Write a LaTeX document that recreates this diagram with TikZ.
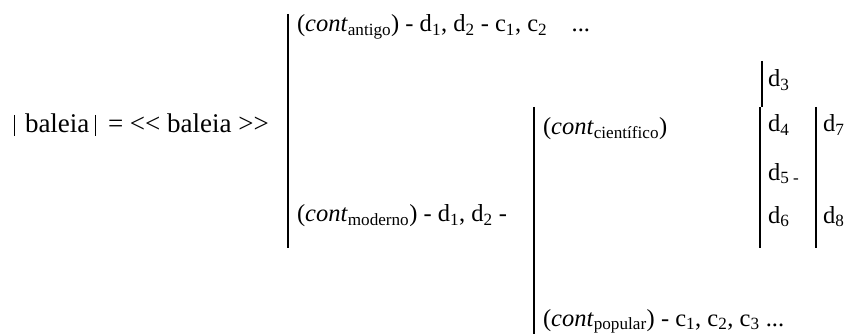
\documentclass[tikz,border=0pt]{standalone}
\usepackage{fontspec}
\setmainfont{Liberation Serif}
\newcommand{\ltc}{\char"3C\relax}
\newcommand{\gtc}{\char"3E\relax}
\begin{document}
\begin{tikzpicture}[x=1pt,y=-1pt,
  txt/.style={anchor=base west,inner sep=0pt,outer sep=0pt,font=\fontsize{24.5}{29}\selectfont},
  big/.style={anchor=base west,inner sep=0pt,outer sep=0pt,font=\fontsize{27}{32}\selectfont},
  bar/.style={line width=2pt},
  thinbar/.style={line width=1pt}]
\useasboundingbox (0,0) rectangle (849,334);
\newcommand{\cnt}[1]{(\textit{cont}\textsubscript{#1})}
% main formula
\coordinate (n1t) at (14,115);
\coordinate (n1b) at (14,136);
\coordinate (n2t) at (95,115);
\coordinate (n2b) at (95,136);
\draw[thinbar] (n1t) -- (n1b);
\draw[thinbar] (n2t) -- (n2b);
\node[big] (bal) at (25,133) {baleia};
\node[big] (rhs) at (108,133) {= \ltc\ltc\ baleia \gtc\gtc};
% first bracket
\coordinate (b1t) at (288,14);
\coordinate (b1b) at (288,248);
\draw[bar] (b1t) -- (b1b);
\node[txt] (ant) at (297,32) {\cnt{antigo} - d\textsubscript{1}, d\textsubscript{2} - c\textsubscript{1}, c\textsubscript{2}\ \ \ \ ...};
\node[txt] (mod) at (297,222) {\cnt{moderno} - d\textsubscript{1}, d\textsubscript{2} -};
% second bracket
\coordinate (b2t) at (534,107);
\coordinate (b2b) at (534,334);
\draw[bar] (b2t) -- (b2b);
\node[txt] (cie) at (543,135) {\cnt{científico}};
\node[txt] (pop) at (543,326) {\cnt{popular} - c\textsubscript{1}, c\textsubscript{2}, c\textsubscript{3} ...};
% d brackets
\coordinate (b3t) at (762,61);
\coordinate (b3m) at (762,107);
\coordinate (b4t) at (760,107);
\coordinate (b4b) at (760,248);
\draw[bar] (b3t) -- (b3m);
\draw[bar] (b4t) -- (b4b);
\coordinate (b5t) at (816,107);
\coordinate (b5b) at (816,248);
\draw[bar] (b5t) -- (b5b);
\node[txt] (d3) at (768,87) {d\textsubscript{3}};
\node[txt] (d4) at (768,132) {d\textsubscript{4}};
\node[txt] (d5) at (768,180) {d\textsubscript{5 -}};
\node[txt] (d6) at (768,223) {d\textsubscript{6}};
\node[txt] (d7) at (823,132) {d\textsubscript{7}};
\node[txt] (d8) at (823,223) {d\textsubscript{8}};
\end{tikzpicture}
\end{document}
